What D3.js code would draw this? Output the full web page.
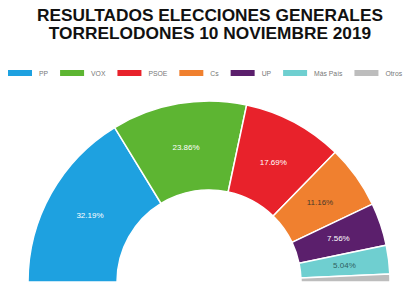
<!DOCTYPE html>
<html>
<head>
<meta charset="utf-8">
<script src="https://cdn.jsdelivr.net/npm/d3@7"></script>
<style>
  body { margin: 0; background: #fff; }
  svg { display: block; }
</style>
</head>
<body>
<div id="chart"></div>
<script>
var parties = ["PP", "VOX", "PSOE", "Cs", "UP", "Más País", "Otros"];
var votes = [32.19, 23.86, 17.69, 11.16, 7.56, 5.04, 1.4];
var colors = ["#1ea1e0", "#5db532", "#e8222b", "#f0802f", "#5b1f6c", "#6fcfd0", "#bdbdbd"];
var labelColors = ["#fff", "#fff", "#fff", "#4a3a2a", "#fff", "#2f5f60", "#fff"];
var titleLines = ["RESULTADOS ELECCIONES GENERALES", "TORRELODONES 10 NOVIEMBRE 2019"];

var svgWidth = 404;
var svgHeight = 285;

var cx = 209, cy = 282;
var outerR = 181, innerR = 92;

var svg = d3.select("#chart")
    .append("svg")
    .attr("width", svgWidth)
    .attr("height", svgHeight);

// title
svg.selectAll(".title")
    .data(titleLines)
    .enter()
    .append("text")
    .attr("class", "title")
    .attr("x", 210)
    .attr("y", (d, i) => 21 + i * 18)
    .attr("text-anchor", "middle")
    .attr("font-family", "Liberation Sans, Arial, sans-serif")
    .attr("font-weight", "bold")
    .attr("font-size", "17.3px")
    .attr("fill", "#111")
    .text(d => d);

// legend
var data = parties.map((p, i) => ({ name: p, value: votes[i], color: colors[i], lc: labelColors[i] }));

var legend = svg.append("g");
var lx = 8;
data.forEach(d => {
    var item = legend.append("g").attr("transform", `translate(${lx}, 70)`);
    item.append("rect")
        .attr("width", 24)
        .attr("height", 6)
        .attr("fill", d.color);
    var t = item.append("text")
        .attr("x", 31)
        .attr("y", 5.5)
        .attr("font-family", "Liberation Sans, Arial, sans-serif")
        .attr("font-size", "6.8px")
        .attr("fill", "#777")
        .text(d.name);
    lx += 31 + t.node().getComputedTextLength() + 12;
});

// half donut
var pie = d3.pie()
    .sort(null)
    .value(d => d.value)
    .startAngle(-Math.PI / 2)
    .endAngle(Math.PI / 2);

var arc = d3.arc()
    .innerRadius(innerR)
    .outerRadius(outerR);

var chartGroup = svg.append("g")
    .attr("transform", `translate(${cx}, ${cy})`);

var arcs = pie(data);

chartGroup.selectAll("path")
    .data(arcs)
    .enter()
    .append("path")
    .attr("d", arc)
    .attr("fill", d => d.data.color)
    .attr("stroke", "#fff")
    .attr("stroke-width", 1.5);

chartGroup.selectAll(".lbl")
    .data(arcs.filter(d => d.data.value > 3))
    .enter()
    .append("text")
    .attr("class", "lbl")
    .attr("transform", d => `translate(${arc.centroid(d)})`)
    .attr("dy", 3)
    .attr("text-anchor", "middle")
    .attr("font-family", "Liberation Sans, Arial, sans-serif")
    .attr("font-size", "8px")
    .attr("fill", d => d.data.lc)
    .text(d => d.data.value.toFixed(2) + "%");
</script>
</body>
</html>
